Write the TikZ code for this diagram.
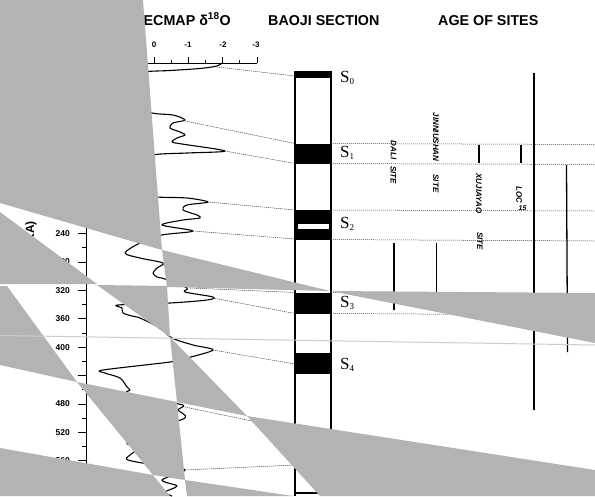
\documentclass[tikz,border=0pt]{standalone}
\usepackage{fontspec}
\setmainfont{Liberation Serif}
\setsansfont{Liberation Sans}
\definecolor{maskgray}{RGB}{179,179,179}
\definecolor{seamgray}{RGB}{205,205,205}
\begin{document}
\begin{tikzpicture}[x=1pt,y=-1pt,
  hdr/.style={font=\sffamily\bfseries\fontsize{14.3}{16}\selectfont, anchor=base west, inner sep=0},
  ticklab/.style={font=\sffamily\bfseries\fontsize{8}{9}\selectfont, inner sep=0},
  agelab/.style={font=\sffamily\bfseries\fontsize{8.5}{9}\selectfont, inner sep=0, anchor=east},
  slab/.style={font=\rmfamily\fontsize{17}{18}\selectfont, anchor=west, inner sep=0},
  site/.style={font=\sffamily\bfseries\itshape\fontsize{8}{9}\selectfont, rotate=-90, inner sep=0},
  tie/.style={line width=0.5pt, black!75, dash pattern=on 1.2pt off 0.8pt},
  sitebar/.style={line width=1.3pt},
  colline/.style={line width=1.1pt},
  band/.style={fill=black, draw=none},
  mask/.style={fill=maskgray, draw=none},
]
\useasboundingbox (0,0) rectangle (595,496);
\fill[white] (0,0) rectangle (595,496);

% ---------- headers ----------
\node[hdr] (h1) at (143.5,25) {ECMAP δ\textsuperscript{18}O};
\node[hdr] (h2) at (268,25) {BAOJI SECTION};
\node[hdr] (h3) at (438,25) {AGE OF SITES};

% ---------- delta 18O axis ----------
\draw[line width=0.8pt] (100,63) -- (257,63);
\foreach \x in {154,188.3,222.6,257} \draw[line width=0.8pt] (\x,57) -- (\x,63);
\foreach \x in {136.9,171.2,205.5,239.8} \draw[line width=0.8pt] (\x,60) -- (\x,63);
\node[ticklab] (t0) at (154,45) {0};
\node[ticklab] (t1) at (188,45) {-1};
\node[ticklab] (t2) at (223,45) {-2};
\node[ticklab] (t3) at (256,45) {-3};

% ---------- age axis ----------
\draw[line width=0.9pt] (86,63) -- (86,496);
\foreach \a in {0,40,...,560} \draw[line width=0.8pt] (78,{63+\a*0.7105}) -- (86,{63+\a*0.7105});
\foreach \a in {20,60,...,540} \draw[line width=0.8pt] (82,{63+\a*0.7105}) -- (86,{63+\a*0.7105});
\foreach \a in {240,280,...,560} \node[agelab] (a\a) at (70,{63+\a*0.7105}) {\a};
\node[font=\sffamily\bfseries\fontsize{12}{12}\selectfont, rotate=90, anchor=east, inner sep=0] (ka) at (31,221) {(KA)};

% ---------- curve ----------
\draw[line width=1.1pt, line join=round] plot[smooth, tension=0.5] coordinates {
(222,63) (217,66) (200,68.5) (170,70.5) (143,72) (125,78) (115,90) (125,104) (152,113) (173,115) (185,120) (173,123) (170,128) (180,132) (185,135) (177,138) (172,142) (182,144) (225,151) (187,153) (152,155) (120,165) (112,180) (130,193) (157,197) (187,198) (208,202) (187,205) (183,210) (197,215) (200,218) (183,220) (162,225) (193,231) (162,235) (140,243) (125,253) (140,258) (163,263) (157,268) (153,273) (157,277) (165,279) (187,288) (185,292) (213,297) (207,300) (170,303) (118,305) (122,308) (123,313) (132,316) (140,318) (160,328) (172,338) (193,345) (213,350) (187,358) (170,362) (103,370) (105,373) (120,378) (127,387) (130,390) (127,393) (150,399) (183,405) (178,410) (185,418) (150,430) (127,443) (140,447) (130,455) (128,460) (160,466) (185,470) (162,480) (177,486) (165,492) (172,496)};

% ---------- column ----------
\fill[band] (295,71) rectangle (331,78);
\fill[band] (295,143.5) rectangle (331,164);
\fill[band] (295,210) rectangle (331,239.5);
\fill[white] (297.5,224) rectangle (328.5,229);
\fill[band] (295,292.5) rectangle (331,314);
\fill[band] (295,353) rectangle (331,373.5);
\draw[colline] (295,71) -- (295,496);
\draw[colline] (331,71) -- (331,496);
\draw[colline] (295,493) -- (331,493);
\node[slab] (S0) at (340,77.5) {S\raisebox{-0.12em}{\fontsize{9}{9}\selectfont 0}};
\node[slab] (S1) at (340,153) {S\raisebox{-0.12em}{\fontsize{9}{9}\selectfont 1}};
\node[slab] (S2) at (340,223.5) {S\raisebox{-0.12em}{\fontsize{9}{9}\selectfont 2}};
\node[slab] (S3) at (340,302.5) {S\raisebox{-0.12em}{\fontsize{9}{9}\selectfont 3}};
\node[slab] (S4) at (340,365) {S\raisebox{-0.12em}{\fontsize{9}{9}\selectfont 4}};

% ---------- tie lines ----------
\coordinate (c0) at (217,67);   \coordinate (s0) at (295,76);
\coordinate (c1a) at (185,121); \coordinate (s1a) at (295,143.5);
\coordinate (c1b) at (225,151); \coordinate (s1b) at (295,163.5);
\coordinate (c2a) at (208,202); \coordinate (s2a) at (295,210);
\coordinate (c2b) at (193,231); \coordinate (s2b) at (295,239);
\coordinate (c3a) at (190,288); \coordinate (s3a) at (295,292.5);
\coordinate (c3b) at (213,298); \coordinate (s3b) at (295,313.5);
\coordinate (c4) at (213,350);  \coordinate (s4) at (295,364);
\coordinate (c5) at (185,407);  \coordinate (s5) at (295,430);
\coordinate (c6) at (185,470);  \coordinate (s6) at (295,465);
\foreach \a/\b in {c0/s0,c1a/s1a,c1b/s1b,c2a/s2a,c2b/s2b,c3a/s3a,c3b/s3b,c4/s4,c5/s5,c6/s6}
  \draw[tie] (\a) -- (\b);
\coordinate (q1a) at (331,143.5); \coordinate (r1a) at (595,144.5);
\coordinate (q1b) at (331,163.5); \coordinate (r1b) at (595,164.5);
\coordinate (q2a) at (331,210);   \coordinate (r2a) at (595,211);
\coordinate (q2b) at (331,239.5); \coordinate (r2b) at (595,241);
\coordinate (q3a) at (331,292.5); \coordinate (r3a) at (595,294);
\coordinate (q3b) at (331,313.5); \coordinate (r3b) at (595,315);
\foreach \a/\b in {q1a/r1a,q1b/r1b,q2a/r2a,q2b/r2b,q3a/r3a,q3b/r3b}
  \draw[tie] (\a) -- (\b);

% ---------- age of sites ----------
\draw[sitebar] (479,145) -- (479,163);
\draw[sitebar] (521,145) -- (521,163);
\draw[line width=1.1pt] (534,73) -- (534,410);
\draw[line width=1.3pt] (566.5,165) -- (567.5,352);
\draw[sitebar] (394,243) -- (394,310);
\draw[sitebar] (436.5,243) -- (436.5,292);
\node[site] (dali) at (393.5,150) {DALI};
\node[site] (dalis) at (393.5,175) {SITE};
\node[site] (jin) at (436,137) {JINNIUSHAN};
\node[site] (jins) at (436,183.5) {SITE};
\node[site] (xu) at (479,193.5) {XUJIAYAO};
\node[site] (xus) at (480,241) {SITE};
\node[site] (loc) at (519,195) {LOC};
\node[font=\sffamily\bfseries\itshape\fontsize{7}{8}\selectfont, inner sep=0] (loc15) at (522.5,208.5) {15};

% ---------- gray overlay ----------
\fill[mask] (0,0) -- (143,0) -- (162,250) -- (0,203) -- cycle;
\fill[mask] (162,250) -- (167,287) -- (330,291) -- cycle;
\fill[mask] (330,291) -- (595,293) -- (595,343) -- cycle;
\fill[mask] (0,212) -- (97,284) -- (0,284) -- cycle;
\fill[mask] (0,286) -- (7,286) -- (77,382) -- (0,365) -- cycle;
\fill[mask] (97,285) -- (167,286) -- (170,337) -- cycle;
\fill[mask] (170,337) -- (177,402) -- (247,416) -- cycle;
\fill[mask] (247,416) -- (595,470) -- (595,496) -- (320,496) -- cycle;
\fill[mask] (77,382) -- (177,402) -- (185,480) -- (153,475) -- cycle;
\fill[mask] (0,448) -- (153,475) -- (170,496) -- (0,496) -- cycle;
\fill[mask] (185,480) -- (293,496) -- (187,496) -- cycle;
\draw[seamgray, line width=1pt] (0,335.5) -- (595,345);
\end{tikzpicture}
\end{document}
